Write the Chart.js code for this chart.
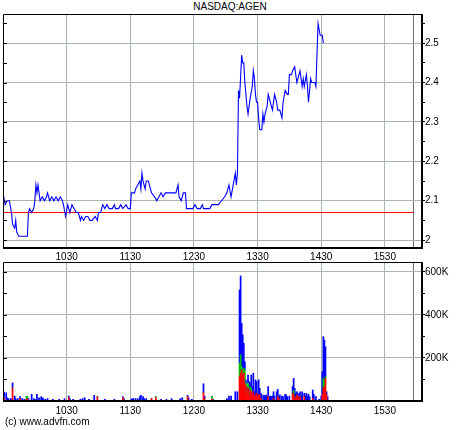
<!DOCTYPE html>
<html>
<head>
<meta charset="utf-8">
<script src="https://cdn.jsdelivr.net/npm/chart.js@4.4.0/dist/chart.umd.min.js"></script>
<style>
  body { margin:0; background:#fff; width:460px; height:430px; position:relative; overflow:hidden; font-family:"Liberation Sans", Arial, sans-serif; color:#000; }
  #titulo { position:absolute; top:1px; left:0; width:460px; text-align:center; font-size:10px; }
  #copy { position:absolute; top:416px; left:5px; font-size:10px; }
  #c1 { position:absolute; left:0; top:0; }
  #c2 { position:absolute; left:0; top:255px; }
</style>
</head>
<body>
<div id="titulo">NASDAQ:AGEN</div>
<canvas id="c1" width="460" height="262"></canvas>
<canvas id="c2" width="460" height="175"></canvas>
<div id="copy">(c) www.advfn.com</div>
<script>
// tiempos en minutos desde medianoche
const openTime = 570, closeTime = 957, endTime = 965;
const prevClose = 2.07;
const hourTicks = [630, 690, 750, 810, 870, 930];
const hourLabels = ['1030', '1130', '1230', '1330', '1430', '1530'];
const priceTicks = [2, 2.1, 2.2, 2.3, 2.4, 2.5];
const priceMinor = [2.05, 2.15, 2.25, 2.35, 2.45, 2.55];
const volTicks = [200, 400, 600];
const volMinor = [100, 300, 500];

// precio intradía
const priceTimes = [570,572,574,576,578,579,581,582,583,585,593,594,595,597,599,600,601,602,603,605,607,609,611,612,614,616,618,620,622,624,626,627,629,631,633,635,637,639,641,643,644,646,648,650,652,654,657,659,660,662,664,666,668,670,673,675,676,679,681,683,686,688,690,691,692,694,695,697,699,700,701,702,704,705,707,709,710,713,715,717,719,721,723,726,728,731,733,735,736,738,740,742,743,746,749,751,753,756,758,759,762,765,767,770,773,776,779,781,783,785,787,789,790,791,792,793,795,796,797,798,800,801,803,805,806,807,808,809,810,811,812,814,815,816,817,819,820,822,823,824,826,828,829,831,833,834,836,838,839,840,842,843,845,847,848,850,852,853,854,856,857,858,860,861,864,865,866,867,869,871,872];
const prices = [2.12,2.09,2.10,2.10,2.07,2.04,2.03,2.05,2.02,2.01,2.01,2.07,2.08,2.07,2.08,2.10,2.14,2.12,2.14,2.10,2.11,2.10,2.11,2.12,2.10,2.11,2.10,2.11,2.10,2.11,2.10,2.09,2.06,2.09,2.07,2.09,2.08,2.07,2.07,2.05,2.06,2.05,2.06,2.06,2.05,2.05,2.06,2.05,2.07,2.07,2.09,2.08,2.09,2.08,2.08,2.09,2.08,2.08,2.09,2.08,2.09,2.08,2.08,2.12,2.12,2.12,2.13,2.14,2.15,2.13,2.17,2.15,2.13,2.15,2.15,2.13,2.12,2.11,2.10,2.11,2.12,2.11,2.12,2.12,2.12,2.12,2.12,2.14,2.11,2.10,2.12,2.12,2.08,2.08,2.08,2.09,2.08,2.08,2.09,2.08,2.08,2.08,2.09,2.09,2.09,2.10,2.11,2.12,2.14,2.11,2.14,2.17,2.14,2.17,2.38,2.36,2.47,2.45,2.45,2.40,2.34,2.32,2.36,2.39,2.43,2.41,2.37,2.35,2.35,2.31,2.28,2.28,2.32,2.30,2.32,2.34,2.37,2.35,2.34,2.33,2.37,2.35,2.33,2.33,2.31,2.35,2.38,2.37,2.37,2.42,2.42,2.43,2.44,2.40,2.41,2.43,2.39,2.41,2.39,2.42,2.39,2.35,2.41,2.40,2.40,2.39,2.47,2.55,2.52,2.52,2.50];

// volumen (miles) por minuto: rojo, verde, azul apilados
const volTimes = [571,573,574,575,577,578,579,581,582,584,586,588,590,592,593,594,597,599,600,602,604,606,607,608,610,612,617,623,628,632,633,636,643,645,647,651,656,659,666,675,683,684,691,692,693,695,697,699,700,702,703,705,710,714,719,724,729,737,739,744,745,748,759,760,767,768,781,783,785,789,791,793,794,795,796,797,798,799,800,801,802,803,804,805,806,807,808,809,810,811,812,813,814,816,817,818,819,820,821,822,823,824,825,826,828,829,830,831,833,834,836,837,838,840,843,844,845,846,847,848,849,850,851,852,854,855,856,857,858,859,862,863,865,868,870,871,872,873,874,875,876];
const volRed = [15,0,0,0,0,0,61,0,0,0,11,0,0,8,10,0,0,0,0,0,0,0,0,0,0,0,0,0,0,15,0,0,0,0,0,0,0,20,0,0,15,0,0,0,0,0,0,0,0,0,0,0,11,15,0,0,0,0,0,20,0,0,38,11,8,0,0,0,0,0,0,113,129,144,121,129,82,67,36,59,28,51,43,28,43,20,28,36,20,28,28,12,0,0,0,0,0,20,0,0,0,0,12,0,0,20,12,0,0,0,0,0,0,0,36,28,20,12,28,20,0,20,0,0,20,0,0,0,0,0,12,0,0,0,0,28,59,67,105,28,0];
const volGreen = [0,0,0,0,0,0,0,0,0,0,0,0,0,12,10,0,0,0,0,0,0,0,0,0,0,0,0,0,0,0,0,0,0,0,0,0,0,0,0,0,0,0,0,0,0,0,0,0,0,0,0,0,0,5,0,0,0,0,0,0,0,0,0,0,12,0,0,0,0,0,0,62,85,16,23,23,62,15,15,23,15,16,16,0,0,0,0,0,0,0,0,0,0,0,0,0,0,0,0,0,0,0,0,0,0,0,0,0,0,0,0,0,0,0,0,23,0,0,0,0,0,0,0,0,0,0,0,0,0,0,0,0,0,0,0,0,46,31,8,0,0];
const volBlue = [26,38,15,11,11,8,23,23,11,11,9,11,8,0,0,11,31,11,8,31,15,20,15,11,8,11,8,8,11,8,11,8,8,11,15,8,26,0,8,8,5,11,8,11,11,11,11,20,26,20,11,11,0,0,8,8,11,11,15,6,15,8,42,12,0,8,11,23,23,43,43,341,367,201,163,116,39,16,16,39,47,15,62,39,86,23,70,54,16,70,31,24,28,28,20,28,23,47,20,23,20,23,31,23,43,34,11,28,23,20,31,28,20,23,31,54,39,24,15,16,28,23,23,43,16,23,36,23,31,20,39,31,20,8,23,108,194,185,139,15,20];

const fuente = { family: '"Liberation Sans", Arial, sans-serif', size: 10 };
const gridColor = '#aab4b4';
const closeColor = '#707070';

// marco del gráfico y marcas pequeñas en el borde izquierdo
const marco = {
  id: 'marco',
  afterDraw(chart) {
    const { ctx, chartArea: a, scales } = chart;
    ctx.save();
    ctx.strokeStyle = '#000';
    ctx.lineWidth = 1;
    ctx.beginPath();
    ctx.moveTo(a.left + 0.5, a.bottom);
    ctx.lineTo(a.left + 0.5, a.top + 0.5);
    ctx.lineTo(a.right, a.top + 0.5);
    ctx.stroke();
    ctx.lineWidth = 2;
    ctx.beginPath();
    ctx.moveTo(a.left, a.bottom);
    ctx.lineTo(a.right, a.bottom);
    ctx.lineTo(a.right, a.top);
    ctx.stroke();
    ctx.lineWidth = 1;
    scales.y.ticks.forEach(t => {
      const py = Math.round(scales.y.getPixelForValue(t.value)) + 0.5;
      ctx.beginPath();
      ctx.moveTo(a.left, py);
      ctx.lineTo(a.left + 4, py);
      ctx.stroke();
    });
    ctx.restore();
  }
};

function ejeX(altura, pad) {
  return {
    type: 'linear', min: openTime, max: endTime, offset: false,
    afterBuildTicks: s => { s.ticks = hourTicks.concat([closeTime]).map(v => ({ value: v })); },
    afterFit: s => { s.height = altura; },
    ticks: {
      autoSkip: false, maxRotation: 0, padding: pad, color: '#000', font: fuente,
      callback: v => { const i = hourTicks.indexOf(v); return i >= 0 ? hourLabels[i] : ''; }
    },
    grid: { offset: false, drawTicks: false, color: c => (c.tick && c.tick.value === closeTime) ? closeColor : gridColor },
    border: { display: false }
  };
}

function ejeY(min, max, mayores, menores, etiqueta) {
  const todos = mayores.concat(menores).sort((a, b) => a - b);
  return {
    position: 'right', min, max,
    afterBuildTicks: s => { s.ticks = todos.map(v => ({ value: v })); },
    afterFit: s => { s.width = 38; },
    ticks: { padding: 0, color: '#000', font: fuente, callback: v => mayores.includes(v) ? etiqueta(v) : '' },
    grid: {
      tickLength: 3, tickColor: '#000',
      color: c => (c.tick && mayores.includes(c.tick.value)) ? gridColor : 'rgba(0,0,0,0)'
    },
    border: { display: false }
  };
}

new Chart(document.getElementById('c1'), {
  type: 'line',
  data: {
    datasets: [
      { data: priceTimes.map((t, i) => ({ x: t, y: prices[i] })), borderColor: '#0000ff', borderWidth: 1.1, pointRadius: 0, tension: 0 },
      { data: [{ x: openTime, y: prevClose }, { x: closeTime, y: prevClose }], borderColor: '#ff0000', borderWidth: 1, pointRadius: 0 }
    ]
  },
  options: {
    responsive: false, animation: false,
    layout: { padding: { left: 3, top: 14, right: 0, bottom: 0 } },
    plugins: { legend: { display: false }, tooltip: { enabled: false } },
    scales: {
      x: ejeX(14, 3),
      y: ejeY(1.98, 2.574, priceTicks, priceMinor, v => String(v))
    }
  },
  plugins: [marco]
});

const barra = (vals, color) => ({
  data: volTimes.map((t, i) => ({ x: t, y: vals[i] })),
  backgroundColor: color, borderWidth: 0, barPercentage: 1, categoryPercentage: 1
});

new Chart(document.getElementById('c2'), {
  type: 'bar',
  data: { datasets: [barra(volRed, '#ff0000'), barra(volGreen, '#00c000'), barra(volBlue, '#0000ff')] },
  options: {
    responsive: false, animation: false,
    layout: { padding: { left: 3, top: 7, right: 0, bottom: 0 } },
    plugins: { legend: { display: false }, tooltip: { enabled: false } },
    scales: {
      x: Object.assign(ejeX(29, 4), { stacked: true }),
      y: Object.assign(ejeY(0, 646, volTicks, volMinor, v => v + 'K'), { stacked: true })
    }
  },
  plugins: [marco]
});
</script>
</body>
</html>
